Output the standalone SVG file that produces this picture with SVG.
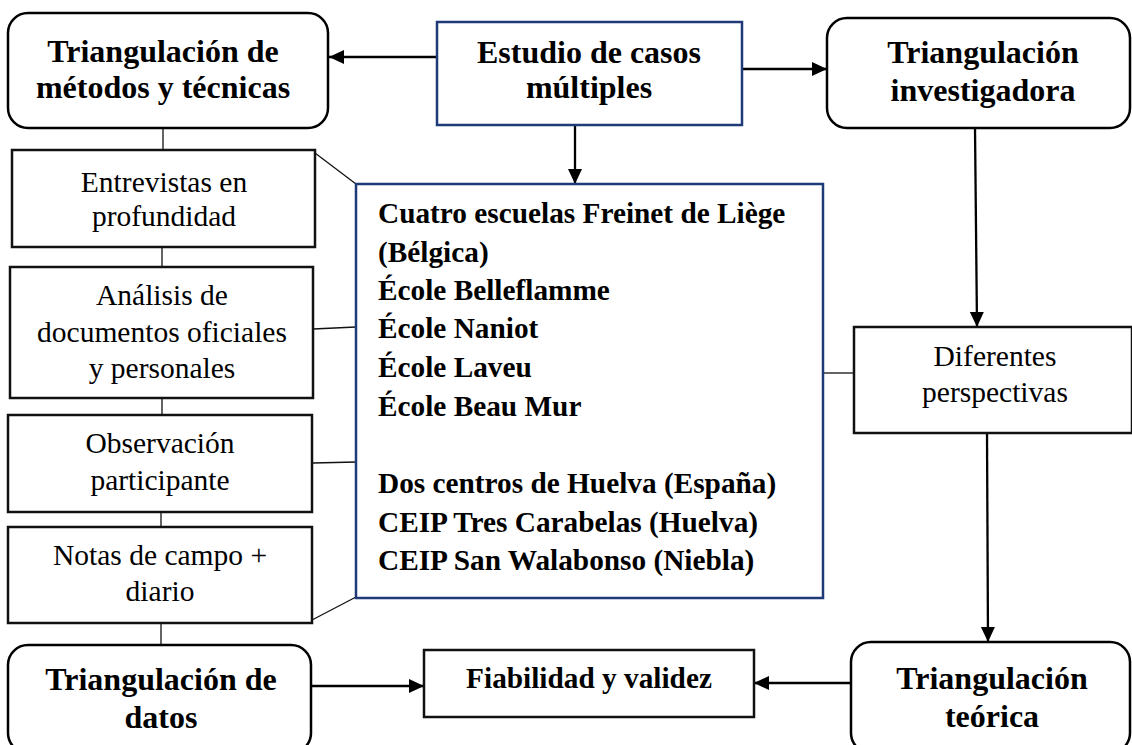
<svg xmlns="http://www.w3.org/2000/svg" width="1132" height="745" viewBox="0 0 1132 745">
<defs>
<marker id="ah" markerUnits="userSpaceOnUse" markerWidth="16" markerHeight="16" viewBox="0 0 16 16" refX="15" refY="8" orient="auto">
<path d="M0,1 L15,8 L0,15 Z" fill="#000"/>
</marker>
</defs>
<style>
text{font-family:"Liberation Serif","Times New Roman",serif;fill:#000;}
.h{font-size:32px;font-weight:bold;text-anchor:middle;}
.b{font-size:29.3px;font-weight:bold;}
.r{font-size:29.5px;text-anchor:middle;}
.rb{fill:#fff;stroke:#000;stroke-width:2.5;}
.sb{fill:#fff;stroke:#111;stroke-width:2.5;}
.bb{fill:#fff;stroke:#1f3a78;stroke-width:2.5;}
.thin{stroke:#111;stroke-width:1.3;fill:none;}
.arr{stroke:#000;stroke-width:2.3;fill:none;marker-end:url(#ah);}
</style>
<g id="connectors">
<line class="arr" x1="437" y1="57" x2="329" y2="57"/>
<line class="arr" x1="742" y1="69" x2="827" y2="69"/>
<line class="arr" x1="575" y1="125" x2="575" y2="184"/>
<line class="arr" x1="975" y1="128" x2="977" y2="327"/>
<line class="arr" x1="987" y1="433" x2="988" y2="642"/>
<line class="arr" x1="311" y1="686" x2="424" y2="686"/>
<line class="arr" x1="851" y1="683" x2="754" y2="683"/>
<line class="thin" x1="163" y1="128" x2="163" y2="150"/>
<line class="thin" x1="162" y1="247" x2="162" y2="267"/>
<line class="thin" x1="162" y1="398" x2="162" y2="415"/>
<line class="thin" x1="161" y1="512" x2="161" y2="527"/>
<line class="thin" x1="161" y1="623" x2="161" y2="645"/>
<line class="thin" x1="315" y1="153" x2="356" y2="184"/>
<line class="thin" x1="313" y1="329" x2="356" y2="327"/>
<line class="thin" x1="313" y1="463" x2="356" y2="462"/>
<line class="thin" x1="312" y1="620" x2="356" y2="597"/>
<line class="thin" x1="823" y1="373" x2="854" y2="373"/>
</g>
<g id="n-metodos">
<rect class="rb" x="8" y="13" width="320" height="115" rx="20"/>
<text class="h" x="163" y="62">Triangulación de</text>
<text class="h" x="163" y="98">métodos y técnicas</text>
</g>
<g id="n-estudio">
<rect class="bb" x="437" y="22" width="305" height="103"/>
<text class="h" x="589" y="63">Estudio de casos</text>
<text class="h" x="589" y="98">múltiples</text>
</g>
<g id="n-investigadora">
<rect class="rb" x="827" y="18" width="303" height="110" rx="20"/>
<text class="h" x="983" y="63">Triangulación</text>
<text class="h" x="983" y="101">investigadora</text>
</g>
<g id="n-entrevistas">
<rect class="sb" x="12" y="150" width="303" height="97"/>
<text class="r" x="164" y="192">Entrevistas en</text>
<text class="r" x="164" y="226">profundidad</text>
</g>
<g id="n-analisis">
<rect class="sb" x="10" y="267" width="303" height="131"/>
<text class="r" x="162" y="305">Análisis de</text>
<text class="r" x="162" y="342">documentos oficiales</text>
<text class="r" x="162" y="378">y personales</text>
</g>
<g id="n-observacion">
<rect class="sb" x="8" y="415" width="304" height="97"/>
<text class="r" x="160" y="453">Observación</text>
<text class="r" x="160" y="490">participante</text>
</g>
<g id="n-notas">
<rect class="sb" x="8" y="527" width="304" height="96"/>
<text class="r" x="160" y="565">Notas de campo +</text>
<text class="r" x="160" y="601">diario</text>
</g>
<g id="n-casos">
<rect class="bb" x="356" y="184" width="467" height="414"/>
<text class="b" x="378" y="223">Cuatro escuelas Freinet de Liège</text>
<text class="b" x="378" y="262">(Bélgica)</text>
<text class="b" x="378" y="300">École Belleflamme</text>
<text class="b" x="378" y="338">École Naniot</text>
<text class="b" x="378" y="377">École Laveu</text>
<text class="b" x="378" y="416">École Beau Mur</text>
<text class="b" x="378" y="493">Dos centros de Huelva (España)</text>
<text class="b" x="378" y="532">CEIP Tres Carabelas (Huelva)</text>
<text class="b" x="378" y="570">CEIP San Walabonso (Niebla)</text>
</g>
<g id="n-perspectivas">
<rect class="sb" x="854" y="327" width="278" height="106"/>
<text class="r" x="995" y="366">Diferentes</text>
<text class="r" x="995" y="402">perspectivas</text>
</g>
<g id="n-datos">
<rect class="rb" x="8" y="645" width="303" height="108" rx="20"/>
<text class="h" x="161" y="690">Triangulación de</text>
<text class="h" x="161" y="728">datos</text>
</g>
<g id="n-fiabilidad">
<rect class="sb" x="424" y="650" width="330" height="67"/>
<text class="b" x="589" y="688" text-anchor="middle">Fiabilidad y validez</text>
</g>
<g id="n-teorica">
<rect class="rb" x="851" y="642" width="279" height="111" rx="20"/>
<text class="h" x="992" y="689">Triangulación</text>
<text class="h" x="992" y="727">teórica</text>
</g>
</svg>
